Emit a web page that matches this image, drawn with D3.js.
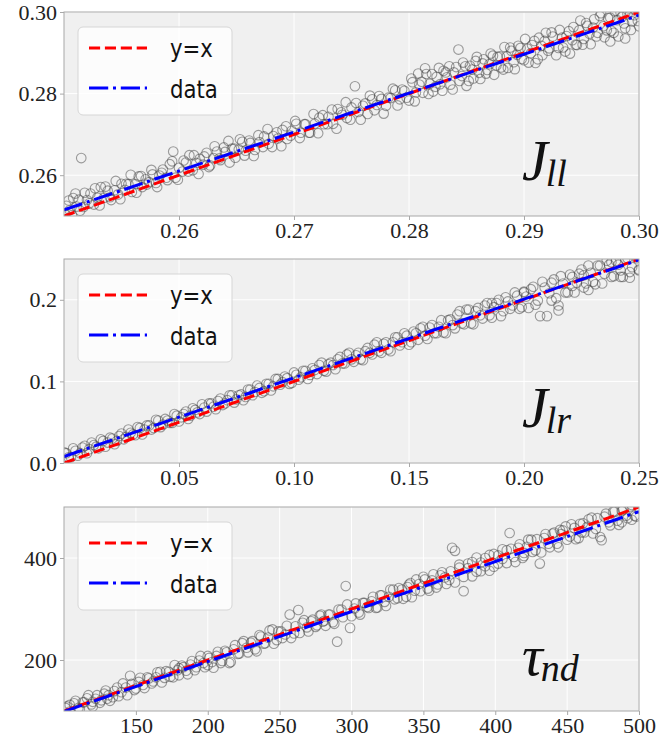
<!DOCTYPE html>
<html>
<head>
<meta charset="utf-8">
<script src="https://cdn.jsdelivr.net/npm/d3@7"></script>
<style>
  body { margin: 0; background: #fff; }
  .axis path { display: none; }
  .axis line { stroke: #a8a8a8; }
  .axis text { font-family: "Liberation Serif", "Times New Roman", "DejaVu Serif", serif; font-size: 22px; fill: #222; }
  .mathlbl { font-family: "Liberation Serif", "Times New Roman", "DejaVu Serif", serif; font-style: italic; }
</style>
</head>
<body>
<svg id="chart" width="669" height="738"></svg>
<script>
// ---- data ----
const jllTicksX = [0.26, 0.27, 0.28, 0.29, 0.30];
const jllTicksY = [0.26, 0.28, 0.30];
const jllFit = [0.2515, 0.2992];   // "data" line at x = 0.25 and x = 0.30
const jllPoints = [
  [0.2502,0.2525],[0.2505,0.2514],[0.2508,0.2544],[0.2511,0.2523],[0.2513,0.2540],[0.2515,0.2642],
  [0.2517,0.2522],[0.2520,0.2539],[0.2523,0.2555],[0.2526,0.2528],[0.2529,0.2545],[0.2532,0.2571],
  [0.2535,0.2545],[0.2538,0.2562],[0.2541,0.2539],[0.2544,0.2563],[0.2547,0.2553],[0.2550,0.2579],
  [0.2553,0.2564],[0.2556,0.2578],[0.2559,0.2559],[0.2562,0.2578],[0.2565,0.2597],[0.2568,0.2571],
  [0.2571,0.2590],[0.2574,0.2583],[0.2577,0.2602],[0.2580,0.2581],[0.2583,0.2599],[0.2586,0.2614],
  [0.2589,0.2594],[0.2592,0.2627],[0.2595,0.2658],[0.2597,0.2594],[0.2600,0.2618],[0.2603,0.2609],
  [0.2606,0.2631],[0.2609,0.2649],[0.2612,0.2612],[0.2615,0.2630],[0.2618,0.2640],[0.2621,0.2626],
  [0.2624,0.2655],[0.2627,0.2624],[0.2630,0.2642],[0.2633,0.2658],[0.2636,0.2637],[0.2640,0.2657],
  [0.2643,0.2684],[0.2646,0.2665],[0.2649,0.2643],[0.2652,0.2663],[0.2655,0.2682],[0.2658,0.2660],
  [0.2662,0.2679],[0.2666,0.2662],[0.2670,0.2681],[0.2674,0.2695],[0.2678,0.2677],[0.2682,0.2696],
  [0.2686,0.2690],[0.2690,0.2711],[0.2694,0.2689],[0.2698,0.2709],[0.2702,0.2726],[0.2706,0.2704],
  [0.2710,0.2725],[0.2714,0.2704],[0.2718,0.2726],[0.2722,0.2741],[0.2726,0.2725],[0.2730,0.2743],
  [0.2734,0.2726],[0.2738,0.2762],[0.2742,0.2748],[0.2746,0.2740],[0.2750,0.2766],[0.2753,0.2818],
  [0.2756,0.2755],[0.2760,0.2770],[0.2764,0.2750],[0.2768,0.2786],[0.2772,0.2772],[0.2776,0.2787],
  [0.2780,0.2770],[0.2784,0.2789],[0.2788,0.2808],[0.2792,0.2786],[0.2796,0.2807],[0.2800,0.2783],
  [0.2803,0.2828],[0.2806,0.2803],[0.2809,0.2822],[0.2812,0.2802],[0.2815,0.2848],[0.2818,0.2824],
  [0.2821,0.2805],[0.2824,0.2841],[0.2827,0.2823],[0.2830,0.2856],[0.2833,0.2840],[0.2836,0.2822],
  [0.2839,0.2852],[0.2843,0.2908],[0.2846,0.2843],[0.2849,0.2867],[0.2852,0.2831],[0.2855,0.2859],
  [0.2858,0.2880],[0.2861,0.2851],[0.2864,0.2874],[0.2867,0.2849],[0.2870,0.2872],[0.2873,0.2893],
  [0.2876,0.2869],[0.2879,0.2891],[0.2882,0.2859],[0.2885,0.2891],[0.2888,0.2913],[0.2891,0.2877],
  [0.2894,0.2895],[0.2897,0.2912],[0.2900,0.2882],[0.2903,0.2910],[0.2906,0.2899],[0.2909,0.2929],
  [0.2912,0.2884],[0.2915,0.2917],[0.2918,0.2929],[0.2921,0.2905],[0.2924,0.2950],[0.2930,0.2912],
  [0.2933,0.2937],[0.2936,0.2903],[0.2939,0.2953],[0.2942,0.2931],[0.2945,0.2920],[0.2948,0.2955],
  [0.2951,0.2920],[0.2954,0.2973],[0.2957,0.2947],[0.2960,0.2962],[0.2963,0.2940],[0.2966,0.2990],
  [0.2969,0.2965],[0.2972,0.2955],[0.2975,0.2986],[0.2978,0.2949],[0.2981,0.2980],[0.2984,0.2998],
  [0.2987,0.2972],[0.2990,0.2995],[0.2993,0.2956],[0.2996,0.2992],[0.2999,0.2978],[0.2975,0.2928],
  [0.2988,0.2935]
];
const jllPointsMore = [
  [0.2501,0.2504],[0.2504,0.2538],[0.2507,0.2502],[0.2510,0.2555],[0.2514,0.2513],[0.2518,0.2557],
  [0.2522,0.2531],[0.2527,0.2568],[0.2531,0.2526],[0.2536,0.2572],[0.2540,0.2546],[0.2545,0.2586],
  [0.2549,0.2541],[0.2554,0.2579],[0.2558,0.2601],[0.2563,0.2557],[0.2567,0.2598],[0.2572,0.2577],
  [0.2576,0.2613],[0.2581,0.2571],[0.2585,0.2606],[0.2590,0.2588],[0.2594,0.2634],[0.2599,0.2589],
  [0.2604,0.2636],[0.2608,0.2609],[0.2613,0.2649],[0.2617,0.2603],[0.2622,0.2646],[0.2626,0.2620],
  [0.2631,0.2671],[0.2635,0.2641],[0.2639,0.2668],[0.2644,0.2631],[0.2648,0.2665],[0.2653,0.2688],
  [0.2657,0.2648],[0.2661,0.2685],[0.2665,0.2647],[0.2669,0.2698],[0.2673,0.2669],[0.2677,0.2713],
  [0.2681,0.2669],[0.2685,0.2705],[0.2689,0.2671],[0.2693,0.2720],[0.2697,0.2697],[0.2701,0.2733],
  [0.2705,0.2691],[0.2709,0.2725],[0.2713,0.2704],[0.2717,0.2750],[0.2721,0.2703],[0.2725,0.2747],
  [0.2729,0.2725],[0.2733,0.2761],[0.2737,0.2714],[0.2741,0.2754],[0.2745,0.2779],[0.2749,0.2736],
  [0.2754,0.2777],[0.2758,0.2736],[0.2762,0.2776],[0.2766,0.2795],[0.2770,0.2759],[0.2774,0.2794],
  [0.2778,0.2751],[0.2782,0.2790],[0.2786,0.2812],[0.2790,0.2771],[0.2794,0.2810],[0.2798,0.2790],
  [0.2802,0.2837],[0.2805,0.2781],[0.2808,0.2849],[0.2811,0.2829],[0.2814,0.2862],[0.2817,0.2799],
  [0.2820,0.2848],[0.2823,0.2817],[0.2826,0.2863],[0.2829,0.2807],[0.2832,0.2852],[0.2835,0.2867],
  [0.2838,0.2810],[0.2841,0.2865],[0.2844,0.2831],[0.2847,0.2876],[0.2850,0.2819],[0.2853,0.2868],
  [0.2856,0.2837],[0.2859,0.2890],[0.2862,0.2836],[0.2865,0.2884],[0.2868,0.2858],[0.2871,0.2898],
  [0.2874,0.2846],[0.2877,0.2890],[0.2880,0.2864],[0.2883,0.2914],[0.2886,0.2863],[0.2889,0.2905],
  [0.2892,0.2860],[0.2895,0.2917],[0.2898,0.2885],[0.2901,0.2934],[0.2904,0.2876],[0.2907,0.2919],
  [0.2910,0.2875],[0.2913,0.2937],[0.2916,0.2894],[0.2919,0.2949],[0.2922,0.2911],[0.2925,0.2940],
  [0.2928,0.2894],[0.2931,0.2956],[0.2934,0.2913],[0.2937,0.2941],[0.2940,0.2898],[0.2943,0.2963],
  [0.2946,0.2919],[0.2949,0.2979],[0.2952,0.2934],[0.2955,0.2966],[0.2958,0.2921],[0.2961,0.2982],
  [0.2964,0.2949],[0.2967,0.2997],[0.2970,0.2938],[0.2973,0.2985],[0.2976,0.2954],[0.2979,0.3002],
  [0.2982,0.2940],[0.2985,0.2988],[0.2988,0.2960],[0.2991,0.3009],[0.2994,0.2977],[0.2997,0.3004],
  [0.3000,0.2965]
];

const jlrTicksX = [0.05, 0.10, 0.15, 0.20, 0.25];
const jlrTicksY = [0.0, 0.1, 0.2];
const jlrFit = [0.008, 0.249];     // "data" line at x = 0 and x = 0.25
const jlrPoints = [
  [0.001,0.012],[0.003,0.007],[0.005,0.015],[0.007,0.012],[0.009,0.021],[0.011,0.017],[0.013,0.022],
  [0.015,0.018],[0.017,0.027],[0.019,0.025],[0.021,0.030],[0.023,0.027],[0.025,0.036],[0.027,0.032],
  [0.029,0.037],[0.031,0.034],[0.033,0.043],[0.035,0.041],[0.037,0.046],[0.039,0.043],[0.041,0.052],
  [0.043,0.047],[0.045,0.052],[0.047,0.049],[0.049,0.058],[0.051,0.056],[0.053,0.063],[0.055,0.058],
  [0.057,0.065],[0.059,0.060],[0.061,0.068],[0.063,0.073],[0.065,0.069],[0.067,0.076],[0.069,0.071],
  [0.071,0.077],[0.073,0.083],[0.075,0.078],[0.077,0.084],[0.079,0.081],[0.081,0.090],[0.083,0.087],
  [0.085,0.092],[0.087,0.088],[0.089,0.097],[0.091,0.094],[0.093,0.103],[0.095,0.099],[0.097,0.104],
  [0.099,0.098],[0.101,0.108],[0.103,0.105],[0.105,0.113],[0.107,0.108],[0.109,0.114],[0.111,0.120],
  [0.113,0.113],[0.115,0.121],[0.117,0.120],[0.119,0.127],[0.121,0.122],[0.123,0.133],[0.125,0.127],
  [0.127,0.132],[0.129,0.127],[0.131,0.137],[0.133,0.135],[0.135,0.145],[0.137,0.137],[0.139,0.146],
  [0.141,0.139],[0.143,0.148],[0.145,0.154],[0.147,0.148],[0.149,0.156],[0.151,0.148],[0.153,0.159],
  [0.155,0.165],[0.157,0.156],[0.159,0.166],[0.161,0.159],[0.163,0.167],[0.165,0.160],[0.167,0.175],
  [0.169,0.169],[0.171,0.182],[0.173,0.171],[0.175,0.188],[0.177,0.171],[0.179,0.186],[0.181,0.181],
  [0.183,0.193],[0.185,0.181],[0.187,0.191],[0.189,0.200],[0.191,0.186],[0.193,0.198],[0.195,0.193],
  [0.197,0.205],[0.199,0.191],[0.201,0.204],[0.203,0.213],[0.205,0.194],[0.207,0.180],[0.209,0.215],
  [0.211,0.208],[0.213,0.225],[0.215,0.187],[0.215,0.193],[0.217,0.220],[0.219,0.209],[0.221,0.228],
  [0.223,0.221],[0.225,0.237],[0.227,0.220],[0.229,0.233],[0.231,0.219],[0.233,0.242],[0.235,0.232],
  [0.237,0.243],[0.239,0.229],[0.241,0.243],[0.243,0.228],[0.245,0.251],[0.247,0.240],[0.249,0.251],
  [0.221,0.217],[0.228,0.212],[0.246,0.227],[0.238,0.246],[0.242,0.236],[0.250,0.236],[0.212,0.199],
  [0.200,0.210],[0.186,0.196],[0.226,0.230]
];
const jlrPointsMore = [
  [0.000,0.013],[0.002,0.007],[0.004,0.018],[0.006,0.009],[0.008,0.019],[0.010,0.012],[0.012,0.025],
  [0.014,0.020],[0.016,0.029],[0.018,0.020],[0.020,0.031],[0.022,0.023],[0.024,0.033],[0.026,0.029],
  [0.028,0.041],[0.030,0.035],[0.032,0.044],[0.034,0.035],[0.036,0.046],[0.038,0.041],[0.040,0.053],
  [0.042,0.044],[0.044,0.054],[0.046,0.049],[0.048,0.060],[0.050,0.051],[0.052,0.060],[0.054,0.054],
  [0.056,0.067],[0.058,0.062],[0.060,0.072],[0.062,0.063],[0.064,0.073],[0.066,0.066],[0.068,0.079],
  [0.070,0.073],[0.072,0.083],[0.074,0.074],[0.076,0.083],[0.078,0.077],[0.080,0.090],[0.082,0.083],
  [0.084,0.095],[0.086,0.086],[0.088,0.097],[0.090,0.089],[0.092,0.103],[0.094,0.096],[0.096,0.106],
  [0.098,0.097],[0.100,0.111],[0.102,0.102],[0.104,0.113],[0.106,0.103],[0.108,0.116],[0.110,0.109],
  [0.112,0.123],[0.114,0.112],[0.116,0.123],[0.118,0.115],[0.120,0.130],[0.122,0.122],[0.124,0.135],
  [0.126,0.124],[0.128,0.135],[0.130,0.126],[0.132,0.141],[0.134,0.133],[0.136,0.148],[0.138,0.135],
  [0.140,0.148],[0.142,0.137],[0.144,0.154],[0.146,0.144],[0.148,0.159],[0.150,0.145],[0.152,0.161],
  [0.154,0.151],[0.156,0.167],[0.158,0.152],[0.160,0.169],[0.162,0.159],[0.164,0.175],[0.166,0.159],
  [0.168,0.176],[0.170,0.165],[0.172,0.186],[0.174,0.170],[0.176,0.188],[0.178,0.170],[0.180,0.190],
  [0.182,0.177],[0.184,0.196],[0.186,0.178],[0.188,0.196],[0.190,0.180],[0.192,0.203],[0.194,0.189],
  [0.196,0.209],[0.198,0.189],[0.200,0.209],[0.202,0.190],[0.204,0.216],[0.206,0.199],[0.208,0.222],
  [0.210,0.180],[0.212,0.221],[0.214,0.202],[0.216,0.229],[0.218,0.209],[0.220,0.231],[0.222,0.209],
  [0.224,0.232],[0.226,0.215],[0.228,0.242],[0.230,0.222],[0.232,0.242],[0.234,0.220],[0.236,0.248],
  [0.238,0.228],[0.240,0.248],[0.242,0.228],[0.244,0.250],[0.246,0.234],[0.248,0.257],[0.250,0.237]
];

const tauTicksX = [150, 200, 250, 300, 350, 400, 450, 500];
const tauTicksY = [200, 400];
const tauFit = [99, 491];          // "data" line at x = 100 and x = 500
const tauPoints = [
  [101,106],[104,99],[107,115],[110,106],[113,117],[116,125],[119,113],[122,124],[125,116],[128,134],
  [131,131],[134,127],[137,146],[140,137],[143,146],[146,169],[149,141],[152,157],[155,151],[158,166],
  [161,154],[164,166],[167,177],[170,165],[173,177],[176,166],[179,180],[182,189],[185,179],[188,191],
  [191,180],[194,199],[197,194],[200,208],[203,196],[206,208],[209,194],[212,218],[215,194],[218,221],
  [221,212],[224,233],[227,224],[230,234],[233,221],[236,249],[239,232],[242,244],[245,260],[248,239],
  [251,256],[254,250],[257,289],[260,252],[263,298],[266,273],[269,264],[272,276],[275,265],[278,287],
  [281,277],[284,289],[287,274],[290,236],[293,299],[296,345],[299,263],[302,301],[305,293],[308,312],
  [311,304],[314,315],[317,302],[320,327],[323,314],[326,324],[329,338],[332,321],[335,338],[338,324],
  [341,351],[344,336],[347,349],[350,363],[353,340],[356,356],[359,342],[362,366],[365,362],[368,357],
  [370,420],[372,414],[375,381],[378,335],[381,380],[384,392],[387,373],[390,391],[393,384],[396,406],
  [399,383],[402,405],[405,398],[408,415],[410,449],[413,402],[416,420],[419,400],[422,422],[425,436],
  [428,415],[431,389],[434,439],[437,428],[440,448],[443,428],[446,447],[449,462],[452,442],[455,459],
  [458,439],[461,468],[464,461],[467,479],[470,457],[473,441],[476,481],[479,470],[482,491],[485,473],
  [488,492],[491,483],[494,501],[497,483],[500,499],[488,470],[495,475],[460,450],[445,455],[420,410],
  [340,348],[280,275],[200,190],[180,184],[130,124],[104,112],[120,118]
];
const tauPointsMore = [
  [102,109],[105,95],[108,120],[111,104],[114,117],[117,131],[120,109],[123,131],[126,121],[129,140],
  [132,120],[135,139],[138,129],[141,154],[144,131],[147,153],[150,144],[153,165],[156,145],[159,164],
  [162,158],[165,176],[168,156],[171,178],[174,167],[177,190],[180,170],[183,186],[186,172],[189,198],
  [192,186],[195,208],[198,186],[201,204],[204,185],[207,216],[210,198],[213,215],[216,196],[219,229],
  [222,213],[225,237],[228,215],[231,237],[234,217],[237,246],[240,233],[243,258],[246,232],[249,256],
  [252,243],[255,267],[258,243],[261,266],[264,253],[267,278],[270,256],[273,279],[276,268],[279,289],
  [282,267],[285,289],[288,271],[291,299],[294,284],[297,309],[300,286],[303,311],[306,289],[309,312],
  [312,302],[315,324],[318,303],[321,327],[324,306],[327,338],[330,319],[333,341],[336,320],[339,343],
  [342,323],[345,358],[348,335],[351,358],[354,336],[357,368],[360,348],[363,372],[366,349],[369,374],
  [372,352],[375,387],[378,363],[381,389],[384,364],[387,401],[390,374],[393,400],[396,375],[399,408],
  [402,389],[405,417],[408,390],[411,418],[414,392],[417,427],[420,404],[423,436],[426,412],[429,437],
  [432,411],[435,447],[438,421],[441,450],[444,421],[447,454],[450,436],[453,466],[456,437],[459,467],
  [462,450],[465,476],[468,448],[471,478],[474,435],[477,487],[480,464],[483,491],[486,465],[489,495],
  [492,478],[495,504],[498,481]
];

// ---- layout ----
const svg = d3.select("#chart");
const left = 64, right = 639, panelH = 204;

const plotPanel = (top, domain, points, fit, ticksX, ticksY, fmtX, fmtY, sym, sub, idx) => {
  let x = d3.scaleLinear().domain(domain).range([left, right]),
      y = d3.scaleLinear().domain(domain).range([top + panelH, top]);

  let g = svg.append("g");
  let clipId = "clip" + idx;
  svg.append("clipPath").attr("id", clipId)
    .append("rect").attr("x", left).attr("y", top).attr("width", right - left).attr("height", panelH);

  g.append("rect")
    .attr("x", left).attr("y", top)
    .attr("width", right - left).attr("height", panelH)
    .attr("fill", "#f0f0f0");

  // grid
  g.selectAll(".vgrid").data(ticksX).enter().append("line")
    .attr("x1", d => x(d)).attr("x2", d => x(d))
    .attr("y1", top).attr("y2", top + panelH)
    .attr("stroke", "#fff").attr("stroke-width", 1);
  g.selectAll(".hgrid").data(ticksY).enter().append("line")
    .attr("x1", left).attr("x2", right)
    .attr("y1", d => y(d)).attr("y2", d => y(d))
    .attr("stroke", "#fff").attr("stroke-width", 1);

  let inner = g.append("g").attr("clip-path", "url(#" + clipId + ")");

  inner.selectAll("circle").data(points).enter().append("circle")
    .attr("cx", d => x(d[0])).attr("cy", d => y(d[1]))
    .attr("r", 4.8)
    .attr("fill", "none")
    .attr("stroke", "#444")
    .attr("stroke-opacity", 0.5)
    .attr("stroke-width", 1.1);

  let line = d3.line().x(d => x(d[0])).y(d => y(d[1]));

  inner.append("path")
    .attr("d", line([[domain[0], domain[0]], [domain[1], domain[1]]]))
    .attr("fill", "none").attr("stroke", "#ff0000").attr("stroke-width", 3)
    .attr("stroke-dasharray", "11.1,4.8");
  inner.append("path")
    .attr("d", line([[domain[0], fit[0]], [domain[1], fit[1]]]))
    .attr("fill", "none").attr("stroke", "#0000ff").attr("stroke-width", 3)
    .attr("stroke-dasharray", "19.2,4.8,3,4.8");

  // legend
  let lg = g.append("g").attr("transform", "translate(" + (left + 14) + "," + (top + 15) + ")");
  lg.append("rect")
    .attr("width", 154).attr("height", 88).attr("rx", 5)
    .attr("fill", "#fff").attr("fill-opacity", 0.8)
    .attr("stroke", "#d6d6d6");
  let items = [
    {label: "y=x", color: "#ff0000", dash: "11.1,4.8"},
    {label: "data", color: "#0000ff", dash: "19.2,4.8,3,4.8"}
  ];
  items.forEach((it, i) => {
    lg.append("line")
      .attr("x1", 11).attr("x2", 69)
      .attr("y1", 21 + i * 40).attr("y2", 21 + i * 40)
      .attr("stroke", it.color).attr("stroke-width", 3)
      .attr("stroke-dasharray", it.dash);
    lg.append("text")
      .attr("transform", "translate(92," + (30 + i * 41) + ") scale(0.85,1)")
      .attr("font-family", "DejaVu Sans, sans-serif")
      .attr("font-size", 25)
      .attr("fill", "#111")
      .text(it.label);
  });

  // panel label
  let lbl = g.append("text")
    .attr("class", "mathlbl")
    .attr("x", left + 458).attr("y", top + 168)
    .attr("font-size", 58)
    .attr("fill", "#111");
  lbl.append("tspan").text(sym);
  lbl.append("tspan").attr("font-size", 38).attr("dy", 6).attr("dx", -2).text(sub);

  // axes
  g.append("g")
    .attr("class", "axis")
    .attr("transform", "translate(0," + (top + panelH) + ")")
    .call(d3.axisBottom(x).tickValues(ticksX).tickFormat(fmtX).tickSize(4).tickPadding(2));
  g.append("g")
    .attr("class", "axis")
    .attr("transform", "translate(" + left + ",0)")
    .call(d3.axisLeft(y).tickValues(ticksY).tickFormat(fmtY).tickSize(4).tickPadding(3));

  g.append("rect")
    .attr("x", left).attr("y", top)
    .attr("width", right - left).attr("height", panelH)
    .attr("fill", "none").attr("stroke", "#a8a8a8").attr("stroke-width", 1);
};

plotPanel(12, [0.25, 0.30], jllPoints.concat(jllPointsMore), jllFit, jllTicksX, jllTicksY,
  d3.format(".2f"), d3.format(".2f"), "J", "ll", 1);
plotPanel(259, [0, 0.25], jlrPoints.concat(jlrPointsMore), jlrFit, jlrTicksX, jlrTicksY,
  d3.format(".2f"), d3.format(".1f"), "J", "lr", 2);
plotPanel(507, [100, 500], tauPoints.concat(tauPointsMore), tauFit, tauTicksX, tauTicksY,
  d3.format("d"), d3.format("d"), "\u03c4", "nd", 3);
</script>
</body>
</html>
